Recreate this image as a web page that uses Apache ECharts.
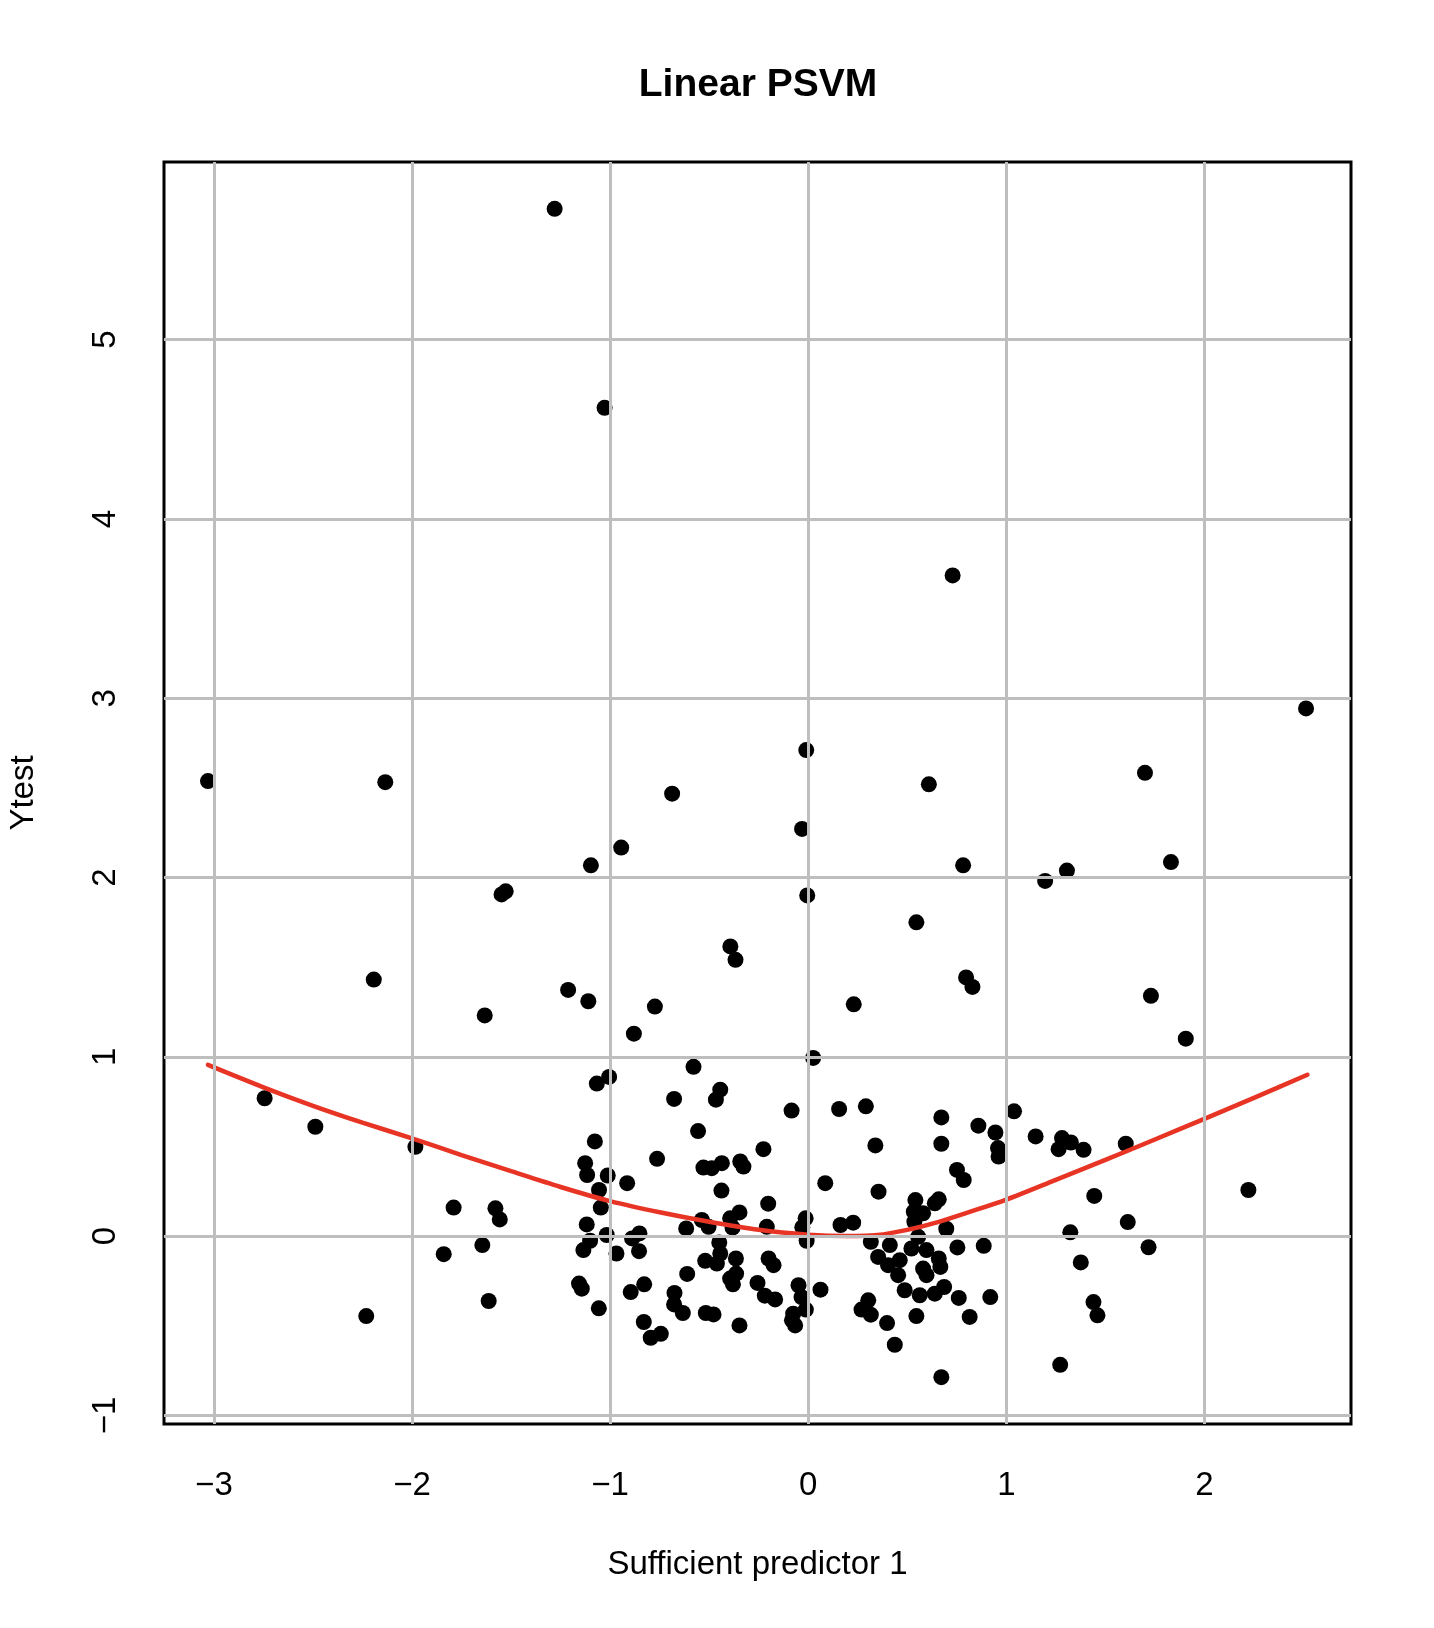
<!DOCTYPE html>
<html>
<head>
<meta charset="utf-8">
<script src="https://cdn.jsdelivr.net/npm/echarts@6/dist/echarts.min.js"></script>
<style>
html, body { margin: 0; padding: 0; background: #ffffff; }
#chart { width: 1434px; height: 1628px; }
</style>
</head>
<body>
<div id="chart"></div>
<script>
// ---- data ----
const title = 'Linear PSVM';
const xAxisTitle = 'Sufficient predictor 1';
const yAxisTitle = 'Ytest';
const xTicks = [-3, -2, -1, 0, 1, 2];
const yTicks = [-1, 0, 1, 2, 3, 4, 5];

// Sufficient predictor 1 (x) and Ytest (y) of each test point
const predictor = [
  -1.110, -0.774, -0.880, -0.579, -1.005, -1.067, -0.677, -0.444, -0.466, -0.084,
  -0.556, -1.077, -0.226, -1.126, -1.116, -0.763, -1.012, -0.529, -0.487, -0.436,
  -0.343, -0.327, -0.914, -0.438, -1.056, -1.047, -0.202, -1.118, -0.347, -0.394,
  -0.537, -0.503, -0.616, -0.382, -0.209, -1.017, -1.101, -1.135, -0.852, -0.889,
  -0.854, -0.968, -0.449, -0.444, -0.520, -0.461, -0.365, -0.200, -0.175, -0.364,
  -0.394, -0.380, -0.611, -0.049, -1.157, -1.143, -0.256, -0.219, -0.167, -0.828,
  -0.896, -0.675, -0.677, -0.633, -1.057, -0.517, -0.478, -0.830, -0.744, -0.795,
  -0.347, -0.082, -0.066,
  0.230, 0.025, 0.156, 0.291, 0.672, 1.039, 0.859, 0.945, 1.148, 0.958,
  0.961, 0.339, 0.672, 0.751, 0.785, 0.086, 0.355, 0.541, 0.659, 0.639,
  0.533, 0.580, 0.536, 0.697, -0.013, -0.030, -0.008, 0.163, 0.227, 0.316,
  0.412, 0.555, 0.521, 0.597, 0.659, 0.667, 0.580, 0.597, 0.753, 0.886,
  0.353, 0.403, 0.462, 0.454, 0.487, 0.563, 0.639, 0.686, 0.760, 0.919,
  0.815, 0.546, 0.398, 0.437, 0.672, 0.303, 0.269, 0.316, 0.062, -0.034,
  -0.012, -0.076,
  1.730, 1.906, 1.281, 1.326, 1.264, 1.390, 1.603, 1.444, 1.613, 1.323,
  1.718, 1.376, 1.440, 1.460, 1.272, 2.222,
  -1.633, -2.744, -2.488, -1.983, -1.790, -1.579, -1.557, -1.645, -1.840, -1.613,
  -2.231,
  -1.280, -1.028, 0.729, 2.513, -3.030, -2.135, -0.010, 0.609, 1.700, -0.687,
  -0.031, -0.944, -1.097, 0.782, 1.831, 1.306, 1.196, -0.005, -1.527, -1.548,
  0.546, -0.393, -0.367, -2.193, 0.797, 0.829, -1.212
];
const ytest = [
  1.310, 1.280, 1.129, 0.944, 0.888, 0.851, 0.765, 0.817, 0.761, 0.700,
  0.586, 0.528, 0.485, 0.407, 0.341, 0.431, 0.338, 0.382, 0.379, 0.407,
  0.416, 0.388, 0.295, 0.254, 0.257, 0.159, 0.181, 0.065, 0.132, 0.099,
  0.090, 0.052, 0.043, 0.047, 0.052, 0.006, -0.026, -0.078, 0.015, -0.013,
  -0.084, -0.097, -0.035, -0.097, -0.138, -0.153, -0.125, -0.125, -0.162, -0.209,
  -0.237, -0.269, -0.211, -0.274, -0.265, -0.293, -0.261, -0.332, -0.353, -0.269,
  -0.312, -0.317, -0.381, -0.429, -0.403, -0.429, -0.437, -0.479, -0.545, -0.567,
  -0.498, -0.470, -0.498,
  1.293, 0.994, 0.709, 0.724, 0.662, 0.696, 0.616, 0.578, 0.556, 0.491,
  0.444, 0.506, 0.515, 0.369, 0.313, 0.295, 0.248, 0.201, 0.205, 0.183,
  0.136, 0.127, 0.080, 0.041, 0.099, 0.049, -0.026, 0.062, 0.075, -0.032,
  -0.050, -0.004, -0.069, -0.078, -0.125, -0.172, -0.181, -0.218, -0.063, -0.054,
  -0.116, -0.162, -0.134, -0.218, -0.302, -0.330, -0.321, -0.284, -0.345, -0.340,
  -0.451, -0.446, -0.485, -0.606, -0.787, -0.358, -0.410, -0.438, -0.299, -0.340,
  -0.410, -0.433,
  1.340, 1.101, 0.547, 0.522, 0.485, 0.481, 0.515, 0.224, 0.078, 0.021,
  -0.062, -0.147, -0.368, -0.442, -0.718, 0.257,
  1.231, 0.769, 0.610, 0.498, 0.159, 0.155, 0.093, -0.050, -0.101, -0.362,
  -0.446,
  5.730, 4.620, 3.685, 2.943, 2.538, 2.532, 2.711, 2.520, 2.584, 2.468,
  2.271, 2.167, 2.068, 2.068, 2.086, 2.039, 1.981, 1.900, 1.923, 1.906,
  1.750, 1.616, 1.541, 1.431, 1.443, 1.390, 1.373
];

// fitted curve (red)
const curveX = [-3.03, -2.75, -2.5, -2.25, -2.0, -1.75, -1.5, -1.25, -1.0, -0.75, -0.5, -0.25,
  0.0, 0.2, 0.35, 0.5, 0.65, 0.8, 1.0, 1.25, 1.5, 1.75, 2.0, 2.25, 2.52];
const curveY = [0.955, 0.830, 0.727, 0.633, 0.545, 0.452, 0.362, 0.274, 0.195, 0.133, 0.080, 0.035,
  0.008, 0.000, 0.006, 0.035, 0.077, 0.130, 0.204, 0.314, 0.425, 0.539, 0.654, 0.771, 0.900];

// axis extents (R style: data range extended by 4%)
const xMin = -3.252, xMax = 2.74;
const yMin = -1.048, yMax = 5.991;

// ---- build chart ----
const FONT = '"Liberation Sans", Arial, Helvetica, sans-serif';
const fmt = v => (v < 0 ? '\u2212' + Math.abs(v) : String(v));

const points = predictor.map((x, i) => [x, ytest[i]]);
const curve = curveX.map((x, i) => [x, curveY[i]]);
const gridLines = xTicks.map(v => ({ xAxis: v })).concat(yTicks.map(v => ({ yAxis: v })));

const chart = echarts.init(document.getElementById('chart'), null, { renderer: 'canvas' });
chart.setOption({
  backgroundColor: '#ffffff',
  animation: false,
  title: {
    text: title,
    left: 753,
    top: 61,
    textAlign: 'center',
    textStyle: { fontFamily: FONT, fontWeight: 'bold', fontSize: 39, color: '#000000' }
  },
  grid: {
    left: 164, right: 83, top: 162, bottom: 204,
    show: true, borderColor: '#000000', borderWidth: 3,
    backgroundColor: 'transparent',
    outerBoundsMode: 'none',
    containLabel: false
  },
  xAxis: {
    type: 'value', min: xMin, max: xMax,
    name: xAxisTitle, nameLocation: 'middle', nameGap: 124,
    nameTextStyle: { fontFamily: FONT, fontSize: 33, color: '#000000' },
    axisLine: { show: false },
    splitLine: { show: false },
    axisTick: { show: true, length: 21, inside: false, customValues: xTicks,
      lineStyle: { color: '#000000', width: 3 } },
    axisLabel: { show: true, customValues: xTicks, margin: 45, formatter: fmt,
      fontFamily: FONT, fontSize: 33, color: '#000000' }
  },
  yAxis: {
    type: 'value', min: yMin, max: yMax,
    name: yAxisTitle, nameLocation: 'middle', nameGap: 124, nameRotate: 90,
    nameTextStyle: { fontFamily: FONT, fontSize: 33, color: '#000000' },
    axisLine: { show: false },
    splitLine: { show: false },
    axisTick: { show: true, length: 21, inside: false, customValues: yTicks,
      lineStyle: { color: '#000000', width: 3 } },
    axisLabel: { show: true, customValues: yTicks, margin: 42, rotate: 90, formatter: fmt,
      fontFamily: FONT, fontSize: 33, color: '#000000' }
  },
  series: [
    {
      type: 'line', data: [], z: 1, silent: true,
      markLine: {
        silent: true, symbol: ['none', 'none'], animation: false,
        label: { show: false },
        lineStyle: { color: '#bebebe', width: 3, type: 'solid' },
        emphasis: { disabled: true },
        data: gridLines
      }
    },
    {
      type: 'scatter', data: points, z: 3, symbol: 'circle', symbolSize: 16,
      itemStyle: { color: '#000000', opacity: 1 }, silent: true
    },
    {
      type: 'line', data: curve, z: 4, smooth: 0.3,
      showSymbol: false, symbol: 'none',
      lineStyle: { color: '#e83424', width: 4.5, cap: 'round' }, silent: true
    }
  ]
});
</script>
</body>
</html>
